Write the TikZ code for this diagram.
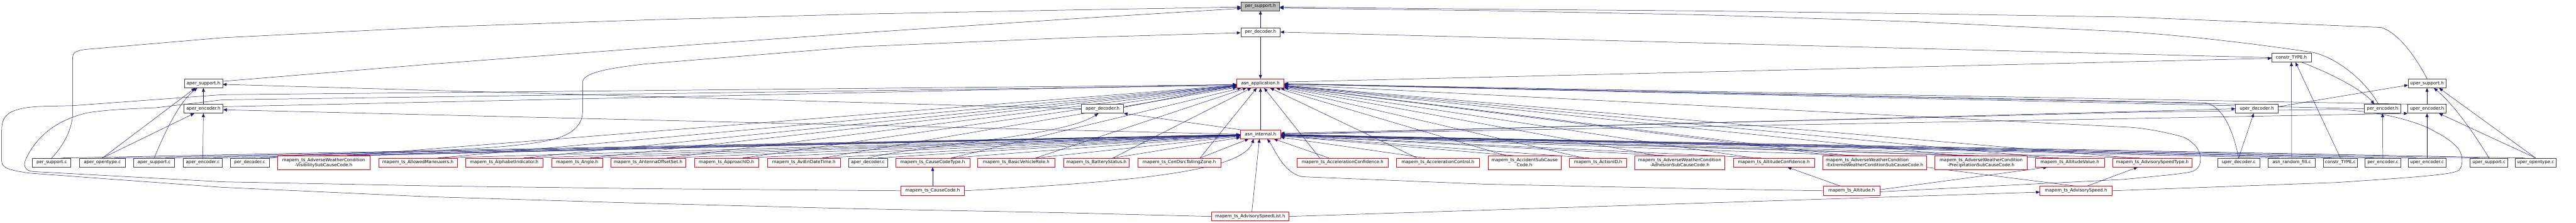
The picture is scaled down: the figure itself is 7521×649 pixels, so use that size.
\documentclass[tikz,border=0pt]{standalone}
\usepackage{fontspec}
\setmainfont{DejaVu Sans}
\usetikzlibrary{arrows.meta,calc}
\pgfdeclarelayer{bg}
\pgfsetlayers{bg,main}
\definecolor{edgec}{HTML}{191970}
\definecolor{bdk}{HTML}{404040}
\definecolor{bred}{HTML}{FF0000}
\definecolor{gfill}{HTML}{BFBFBF}
\tikzset{
  bx/.style={draw, line width=1pt, fill=white, minimum height=26pt, inner xsep=2pt, inner ysep=1pt, anchor=center},
  hk/.style={bx, draw=bdk},
  hr/.style={bx, draw=bred},
  two/.style={minimum height=40pt, align=center},
  e/.style={draw=edgec, line width=0.9pt, -{Triangle[length=11pt,width=9pt]}}
}
\begin{document}
\begin{tikzpicture}[x=1pt,y=-1pt,font=\fontsize{12.9}{14.5}\selectfont]
\useasboundingbox (0,0) rectangle (7521,649);
% headers
\node[hk,fill=gfill,minimum height=25pt,minimum width=112pt] (psh) at (3680,18.5) {per\_support.h};
\node[hk,minimum width=115pt] (pdh) at (3680,93.5) {per\_decoder.h};
\node[hk,minimum width=115pt] (cth) at (6690,168) {constr\_TYPE.h};
\node[hk,minimum width=112pt] (ash) at (594,243) {aper\_support.h};
\node[hr,minimum width=138pt] (aah) at (3680,243) {asn\_application.h};
\node[hk,minimum width=110pt] (ush) at (7086,243) {uper\_support.h};
\node[hk,minimum width=114pt] (aeh) at (594,317) {aper\_encoder.h};
\node[hk,minimum width=123pt] (adh) at (3219,317) {aper\_decoder.h};
\node[hk,minimum width=124pt] (udh) at (6589,317) {uper\_decoder.h};
\node[hk,minimum width=105pt] (peh) at (6956,317) {per\_encoder.h};
\node[hk,minimum width=112pt] (ueh) at (7086,317) {uper\_encoder.h};
\node[hr,minimum width=117pt] (aih) at (3680,391.5) {asn\_internal.h};
% leaves
\node[hk,minimum width=112pt] (psc) at (151,474) {per\_support.c};
\node[hk,minimum width=133pt] (aoc) at (299,474) {aper\_opentype.c};
\node[hk,minimum width=120pt] (asc) at (450,474) {aper\_support.c};
\node[hk,minimum width=114pt] (aec) at (592,474) {aper\_encoder.c};
\node[hk,minimum width=113pt] (pdc) at (729,474) {per\_decoder.c};
\node[hr,two,minimum width=271pt] (l1) at (945,474) {mapem\_ts\_AdverseWeatherCondition\\-VisibilitySubCauseCode.h};
\node[hr,minimum width=229pt] (l2) at (1220,474) {mapem\_ts\_AllowedManeuvers.h};
\node[hr,minimum width=227pt] (l3) at (1472,474) {mapem\_ts\_AlphabetIndicator.h};
\node[hr,minimum width=149pt] (l4) at (1685,474) {mapem\_ts\_Angle.h};
\node[hr,minimum width=219pt] (l5) at (1892,474) {mapem\_ts\_AntennaOffsetSet.h};
\node[hr,minimum width=188pt] (l6) at (2121,474) {mapem\_ts\_ApproachID.h};
\node[hr,minimum width=214pt] (l7) at (2347,474) {mapem\_ts\_AviEriDateTime.h};
\node[hk,minimum width=113pt] (adc) at (2534,474) {aper\_decoder.c};
\node[hr,minimum width=216pt] (l8) at (2723,474) {mapem\_ts\_CauseCodeType.h};
\node[hr,minimum width=225pt] (l9) at (2967,474) {mapem\_ts\_BasicVehicleRole.h};
\node[hr,minimum width=192pt] (l10) at (3201,474) {mapem\_ts\_BatteryStatus.h};
\node[hr,minimum width=242pt] (l11) at (3443,474) {mapem\_ts\_CenDsrcTollingZone.h};
\node[hr,minimum width=266pt] (l12) at (3920,474) {mapem\_ts\_AccelerationConfidence.h};
\node[hr,minimum width=242pt] (l13) at (4198,474) {mapem\_ts\_AccelerationControl.h};
\node[hr,two,minimum width=213pt] (l14) at (4451,474) {mapem\_ts\_AccidentSubCause\\Code.h};
\node[hr,minimum width=167pt] (l15) at (4666,474) {mapem\_ts\_ActionID.h};
\node[hr,two,minimum width=262pt] (l16) at (4904,474) {mapem\_ts\_AdverseWeatherCondition\\-AdhesionSubCauseCode.h};
\node[hr,minimum width=236pt] (l17) at (5179,474) {mapem\_ts\_AltitudeConfidence.h};
\node[hr,two,align=left,minimum width=302pt] (l18) at (5473,474) {mapem\_ts\_AdverseWeatherCondition\\-ExtremeWeatherConditionSubCauseCode.h};
\node[hr,two,minimum width=270pt] (l19) at (5784,474) {mapem\_ts\_AdverseWeatherCondition\\-PrecipitationSubCauseCode.h};
\node[hr,minimum width=201pt] (l20) at (6043,474) {mapem\_ts\_AltitudeValue.h};
\node[hr,minimum width=232pt] (l21) at (6284,474) {mapem\_ts\_AdvisorySpeedType.h};
\node[hk,minimum width=122pt] (udc) at (6536,474) {uper\_decoder.c};
\node[hk,minimum width=138pt] (arf) at (6691,474) {asn\_random\_fill.c};
\node[hk,minimum width=99pt] (ctc) at (6833,474) {constr\_TYPE.c};
\node[hk,minimum width=104pt] (pec) at (6957,474) {per\_encoder.c};
\node[hk,minimum width=111pt] (uec) at (7086,474) {uper\_encoder.c};
\node[hk,minimum width=110pt] (usc) at (7267,474) {uper\_support.c};
\node[hk,minimum width=121pt] (uoc) at (7403,474) {uper\_opentype.c};
\node[hr,minimum width=185pt] (cc) at (2723,556) {mapem\_ts\_CauseCode.h};
\node[hr,minimum width=164pt] (alt) at (5406,556) {mapem\_ts\_Altitude.h};
\node[hr,minimum width=210pt] (asp) at (6061,556) {mapem\_ts\_AdvisorySpeed.h};
\node[hr,minimum width=225pt] (asl) at (3650,631) {mapem\_ts\_AdvisorySpeedList.h};

\begin{pgfonlayer}{bg}
% into per_support.h
\draw[e] (pdh) -- (psh);
\draw[e] (psc.north) .. controls (190,420) and (212,370) .. (212,331) -- (212,170) .. controls (212,152) and (222,148) .. (250,144) -- (649,110) -- (1269,79) -- (1889,58) -- (2509,41) -- (3129,29) -- ([yshift=-2pt]psh.west);
\draw[e] ([yshift=6pt]ash.east) -- (1269,186) -- (1889,140) -- (2509,96) -- (3129,55) -- ([yshift=-6pt]psh.west);
\draw[e] (ush.north) .. controls (7050,160) and (7000,95) .. (6952,80) -- (6229,50) -- (5609,40) -- (4989,32) -- (4369,27) -- ([yshift=-2pt]psh.east);
\draw[e] ([xshift=-12pt]peh.north) .. controls (6915,250) and (6840,175) .. (6755,153) .. controls (6500,115) and (6300,98) .. (6200,92) -- (5580,63) -- (4960,43) -- (4340,31) -- ([yshift=-5pt]psh.east);
% into per_decoder.h
\draw[e] (cth.west) -- (pdh.east);
\draw[e] (pdc.north east) .. controls (900,440) and (1450,450) .. (1620,405) .. controls (1690,385) and (1701,350) .. (1701,323) -- (1701,240) .. controls (1701,215) and (1760,200) .. (1889,186) -- (2509,136) -- (3129,110) -- ([yshift=-2pt]pdh.west);
% asn_application.h
\draw[e] (pdh) -- (aah);
\draw[e] (aih) -- (aah);
\draw[e] ([yshift=4pt]aah.east) -- ([yshift=-2pt]cth.west);
\draw[e] ([yshift=4pt]adh.east) -- ([yshift=-5pt]aah.west);
\draw[e] ([yshift=6pt]aeh.east) -- ([yshift=-3pt]aah.west);
\draw[e] (peh.west) -- (aah);
\draw[e] (ueh.north west) -- (aah);
\draw[e] (udh.north west) -- (aah);
% aper side
\draw[e] (adh.west) -- ([yshift=-3pt]ash.east);
\draw[e] (aih.west) -- ([yshift=-3pt]aeh.east);
\draw[e] (aih.north west) -- (adh.south east);
\draw[e] (aeh) -- (ash);
\draw[e] (aoc.north) -- ([xshift=-24pt]ash.south);
\draw[e] (aoc.north) -- ([xshift=-27pt]aeh.south);
\draw[e] (asc.north) .. controls (480,390) and (520,300) .. ([xshift=-18pt]ash.south);
\draw[e] (aec) -- (aeh);
\draw[e] (adc.north) .. controls (2700,420) and (3100,400) .. ([xshift=-12pt]adh.south);
% uper / per right side
\draw[e] (udc.north) -- ([xshift=-9pt]udh.south);
\draw[e] ([yshift=6pt]udh.east) -- ([yshift=-5pt]ush.west);
\draw[e] (aih.east) -- (udh.west);
\draw[e] (aih.east) -- (ueh.south west);
\draw[e] (ueh) -- (ush);
\draw[e] (uec) -- (ueh);
\draw[e] (pec) -- (peh);
\draw[e] ([xshift=30pt]cth.south) .. controls (6820,220) and (6900,265) .. ([xshift=-24pt]peh.north);
\draw[e] (arf) -- (cth);
\draw[e] (ctc.north) -- ([xshift=12pt]cth.south);
\draw[e] (usc.north) .. controls (7230,400) and (7170,310) .. ([xshift=20pt]ush.south);
\draw[e] (uoc.north) -- ([xshift=35pt]ush.south);
\draw[e] (uoc.north) -- ([xshift=35pt]ueh.south);
\draw[e] (udc.north) .. controls (6520,380) and (6490,310) .. (6440,300) -- (aah);
% sources to asn_internal.h
\foreach \n in {psc,aoc,asc,aec,pdc,adc}{
  \draw[e] ($(\n.north)!0.5!(\n.north east)$) -- (aih);
}
\foreach \n in {arf,ctc,pec,uec,usc,uoc}{
  \draw[e] ($(\n.north)!0.5!(\n.north west)$) -- (aih);
}
% mapem leaves
\foreach \i in {1,...,11}{
  \draw[e] ($(l\i.north)!0.5!(l\i.north east)$) -- (aah);
  \draw[e] ($(l\i.north)!0.5!(l\i.north east)$) -- (aih);
}
\foreach \i in {12,...,21}{
  \draw[e] ($(l\i.north)!0.5!(l\i.north west)$) -- (aah);
  \draw[e] ($(l\i.north)!0.3!(l\i.north west)$) -- (aih);
}
% CauseCode
\draw[e] (cc) -- (l8);
\draw[e] (cc.west) -- (1889,550) -- (1269,542) -- (649,530) -- (95,500) .. controls (72,497) and (68,482) .. (75,465) .. controls (100,410) and (150,355) .. (250,330) .. controls (300,320) and (400,316) .. (455,314) -- (649,291) -- ([yshift=-6pt]aah.west);
\draw[e] (cc.east) .. controls (3300,530) and (3630,500) .. ([xshift=-20pt]aih.south);
% Altitude
\draw[e] ([xshift=-32pt]alt.north) -- ([xshift=40pt]l17.south);
\draw[e] ([yshift=3pt]alt.east) -- ([xshift=-66pt]l20.south);
\draw[e] (alt.west) -- (4960,550) -- (4340,537) -- (3800,515) .. controls (3745,500) and (3725,440) .. ([xshift=20pt]aih.south);
\draw[e] ([yshift=-3pt]alt.east) -- (6200,523) .. controls (6330,510) and (6395,505) .. (6407,497) .. controls (6430,485) and (6430,450) .. (6410,425) .. controls (6395,410) and (6380,400) .. (6366,397) .. controls (6300,380) and (6250,372) .. (6200,370) -- (aah);
% AdvisorySpeed(List)
\draw[e] (asl.east) -- ([yshift=-4pt]asp.west);
\draw[e] ([xshift=32pt]asp.north) -- ([xshift=-43pt]l21.south);
\draw[e] (asp.north) -- (aah);
\draw[e] (asp.east) -- (6820,532) .. controls (7080,515) and (7160,508) .. (7178,497) .. controls (7192,485) and (7192,455) .. (7178,434) .. controls (7150,400) and (7100,380) .. (7088,372) .. controls (7000,335) and (6900,322) .. (6820,319) -- (6229,327) -- (5580,344) -- (4960,358) -- (4340,375) -- ([yshift=3pt]aih.east);
\draw[e] ([xshift=5pt]asl.north) -- ([xshift=-3pt]aih.south);
\draw[e] (asl.west) -- (3100,620) -- (2480,608) -- (1860,592) -- (1240,573) -- (649,546) -- (90,505) .. controls (30,497) and (5,490) .. (5,470) -- (5,380) .. controls (5,335) and (25,315) .. (120,310) -- (212,308) -- (649,276) -- ([yshift=-4pt]aah.west);
\end{pgfonlayer}
\end{tikzpicture}
\end{document}
